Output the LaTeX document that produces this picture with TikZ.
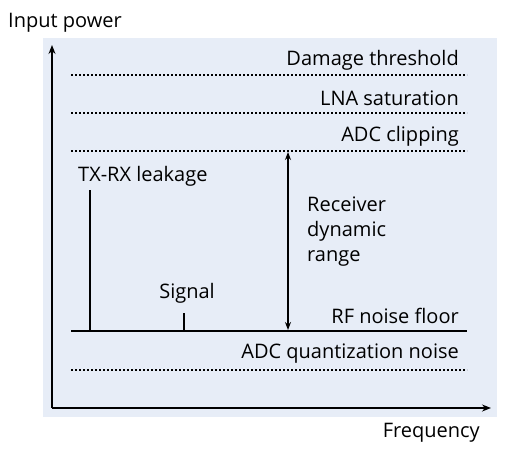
\documentclass[tikz,border=0pt]{standalone}
\usepackage{fontspec}
\setmainfont{Open Sans}
\usetikzlibrary{arrows.meta}
\definecolor{bgblue}{HTML}{E7EDF7}
\tikzset{
  lbl/.style={inner sep=0pt, font=\fontsize{20}{25}\selectfont, text=black},
  dotline/.style={line width=1.8pt, dash pattern=on 1.8pt off 2.2pt},
  axis/.style={line width=1.4pt, -{Stealth[length=9pt,width=7pt]}},
  spike/.style={line width=2pt},
  dyn/.style={line width=1.2pt, {Stealth[length=8pt,width=6pt]}-{Stealth[length=8pt,width=6pt]}}
}
\begin{document}
\begin{tikzpicture}[x=1pt,y=-1pt]
\useasboundingbox (0,0) rectangle (510,450);
\fill[bgblue] (43,38) rectangle (497,417);
% axes
\coordinate (O) at (52,408);
\coordinate (ytop) at (52,45);
\coordinate (xend) at (491,408);
\draw[axis] (O) -- (ytop);
\draw[axis] (O) -- (xend);
\node[lbl, anchor=west] (ylab) at (8,23) {Input power};
\node[lbl, anchor=east] (xlab) at (480,433) {Frequency};
% threshold lines
\coordinate (d1l) at (71,75);  \coordinate (d1r) at (467,75);
\coordinate (d2l) at (71,113); \coordinate (d2r) at (467,113);
\coordinate (d3l) at (71,151); \coordinate (d3r) at (467,151);
\coordinate (d4l) at (71,370); \coordinate (d4r) at (467,370);
\draw[dotline] (d1l) -- (d1r);
\draw[dotline] (d2l) -- (d2r);
\draw[dotline] (d3l) -- (d3r);
\draw[dotline] (d4l) -- (d4r);
\node[lbl, anchor=east] (dmg) at (459,60) {Damage threshold};
\node[lbl, anchor=east] (lna) at (459,98) {LNA saturation};
\node[lbl, anchor=east] (adc) at (459,136) {ADC clipping};
\node[lbl, anchor=east] (rfn) at (459,316) {RF noise floor};
\node[lbl, anchor=east] (qn) at (459,354) {ADC quantization noise};
% noise floor
\coordinate (nfl) at (71,331); \coordinate (nfr) at (467,331);
\draw[spike] (nfl) -- (nfr);
% spikes
\coordinate (txb) at (90,331); \coordinate (txt) at (90,190);
\coordinate (sgb) at (184,331); \coordinate (sgt) at (184,313);
\draw[spike] (txb) -- (txt);
\draw[spike] (sgb) -- (sgt);
\node[lbl, anchor=west] (txl) at (78,176) {TX-RX leakage};
\node[lbl] (sgl) at (187,293) {Signal};
% dynamic range
\coordinate (dtop) at (288,152); \coordinate (dbot) at (288,330);
\draw[dyn] (dtop) -- (dbot);
\node[lbl, anchor=west, align=left] (rdr) at (307,232) {Receiver\\dynamic\\range};
\end{tikzpicture}
\end{document}
